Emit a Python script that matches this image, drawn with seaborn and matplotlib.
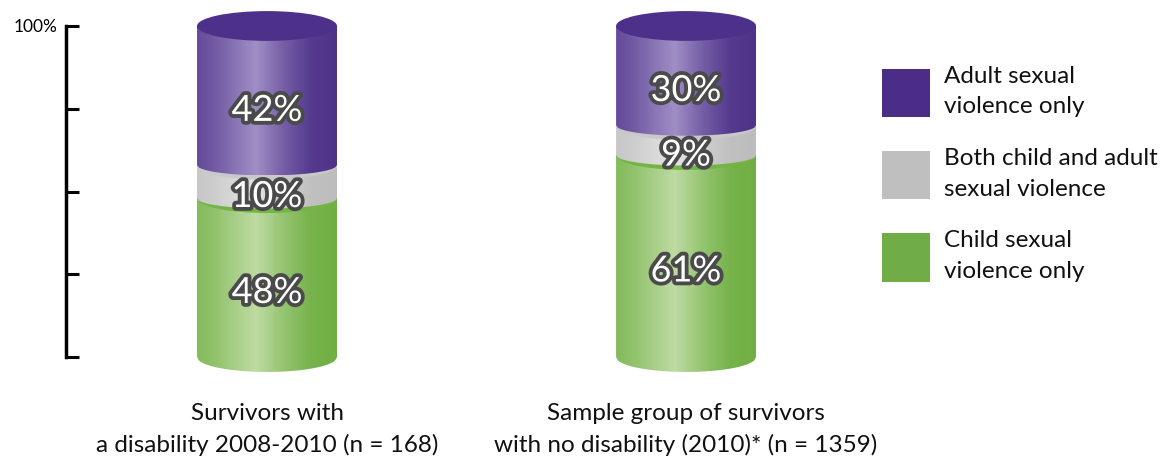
import numpy as np
import pandas as pd
import matplotlib
matplotlib.use("Agg")
import matplotlib.pyplot as plt
import matplotlib.patheffects as pe
from matplotlib.patches import Polygon, Ellipse, Patch
import seaborn as sns

# ---------------- data ----------------
groups = ["Survivors with\na disability 2008-2010 (n = 168)",
          "Sample group of survivors\nwith no disability (2010)* (n = 1359)"]
categories = ["Adult sexual\nviolence only",
              "Both child and adult\nsexual violence",
              "Child sexual\nviolence only"]
adult_only = [42, 30]
both_child_adult = [10, 9]
child_only = [48, 61]
y_ticks = [0, 25, 50, 75, 100]
y_tick_labels = ["", "", "", "", "100%"]

# ---------------- style ----------------
legend_colors = ["#4B2D87", "#BFBFBF", "#70AD47"]
dark_cols = ["#4A2E86", "#BBBBBB", "#6CAD3E"]
light_cols = ["#A08EC6", "#E4E4E4", "#BEDBA3"]
top_cols = ["#4C3089", "#C9C9C9", "#74B444"]

sns.set_style("white")
plt.rcParams["font.family"] = ["Lato", "DejaVu Sans"]

# stacked (cumulative) tops, bottom->top order: child, both, adult
values = {categories[0]: adult_only, categories[1]: both_child_adult, categories[2]: child_only}
stack_order = [categories[2], categories[1], categories[0]]
rows = []
for gi, g in enumerate(groups):
    cum = 0
    for c in stack_order:
        v = values[c][gi]
        rows.append(dict(group=g, category=c, value=v, bottom=cum, top=cum + v))
        cum += v
df = pd.DataFrame(rows)

fig = plt.figure(figsize=(11.7, 4.67), dpi=100)
ax = fig.add_axes([66 / 1170, 0.1929, 1094 / 1170, 0.794])

bar_w = 0.334
sns.barplot(data=df, x="group", y="top", hue="category", hue_order=categories,
            order=groups, palette=legend_colors, dodge=False, width=bar_w,
            errorbar=None, legend=False, ax=ax)

h = 4.5  # half height of ellipses (data units)
t = np.linspace(0, 1, 256)
f = np.interp(t, [0, 0.12, 0.42, 0.62, 0.82, 1.0], [0.3, 0.45, 1.0, 0.5, 0.12, 0.05])

def grad_img(dark, light):
    d = np.array(matplotlib.colors.to_rgb(dark))
    l = np.array(matplotlib.colors.to_rgb(light))
    img = d[None, :] + (l - d)[None, :] * f[:, None]
    return img[None, :, :]

for ci, cat in enumerate(categories):
    cont = ax.containers[ci]
    level = stack_order.index(cat)  # 0 bottom
    for gi, bar in enumerate(cont):
        bar.set_visible(False)
        x0 = bar.get_x()
        w = bar.get_width()
        x1 = x0 + w
        xc = x0 + w / 2
        top = bar.get_height()
        sub = df[(df.group == groups[gi]) & (df.category == cat)].iloc[0]
        bottom = sub["bottom"]
        hb = h if level == 0 else 0.7 * h
        z = 2 + level * 2
        u = np.linspace(-1, 1, 80)
        arc_x = xc + u * w / 2
        arc_y = bottom - hb * np.sqrt(np.clip(1 - u ** 2, 0, 1))
        pts = np.column_stack([arc_x, arc_y])
        pts = np.vstack([pts, [[x1, top], [x0, top]]])
        poly = Polygon(pts, closed=True, facecolor="none", edgecolor="none",
                       transform=ax.transData, zorder=z)
        ax.add_patch(poly)
        im = ax.imshow(grad_img(dark_cols[ci], light_cols[ci]),
                       extent=(x0, x1, bottom - hb, top), aspect="auto",
                       origin="lower", interpolation="bilinear", zorder=z)
        im.set_clip_path(poly)
        # top surface
        ax.add_patch(Ellipse((xc, top), w, 2 * h, facecolor=top_cols[ci],
                             edgecolor="none", zorder=z + 1 if level < 2 else 9))
        # value label
        ax.text(xc, (bottom + top) / 2 - h, f"{int(sub['value'])}%",
                ha="center", va="center", fontsize=26, color="white",
                zorder=20,
                path_effects=[pe.withStroke(linewidth=5.5, foreground="#4A4A4A")])

ax.set_xlim(-0.4797, 2.131)
ax.set_ylim(-6, 106)
ax.set_xlabel("")
ax.set_ylabel("")
for s in ["top", "right", "bottom"]:
    ax.spines[s].set_visible(False)
ax.spines["left"].set_bounds(0, 100)
ax.spines["left"].set_linewidth(2.5)
ax.spines["left"].set_color("black")
ax.set_yticks(y_ticks)
ax.set_yticklabels(y_tick_labels)
ax.tick_params(axis="y", direction="in", length=9, width=2.2, pad=6,
               labelsize=12.5, colors="black", left=True)
ax.tick_params(axis="x", length=0, pad=19, labelsize=17.5, colors="#111111")
for lab in ax.get_xticklabels():
    lab.set_linespacing(1.55)

handles = [Patch(facecolor=c, edgecolor="none", label=l)
           for c, l in zip(legend_colors, categories)]
leg = fig.legend(handles=handles, loc="upper left",
                 bbox_to_anchor=(882 / 1170, 1 - 66 / 467), frameon=False,
                 fontsize=17.5, handlelength=1.97, handleheight=2.7,
                 handletextpad=0.6, labelspacing=1.27, borderpad=0,
                 borderaxespad=0)
for txt in leg.get_texts():
    txt.set_linespacing(1.55)
    txt.set_color("#111111")

fig.savefig("out.png", dpi=100)
